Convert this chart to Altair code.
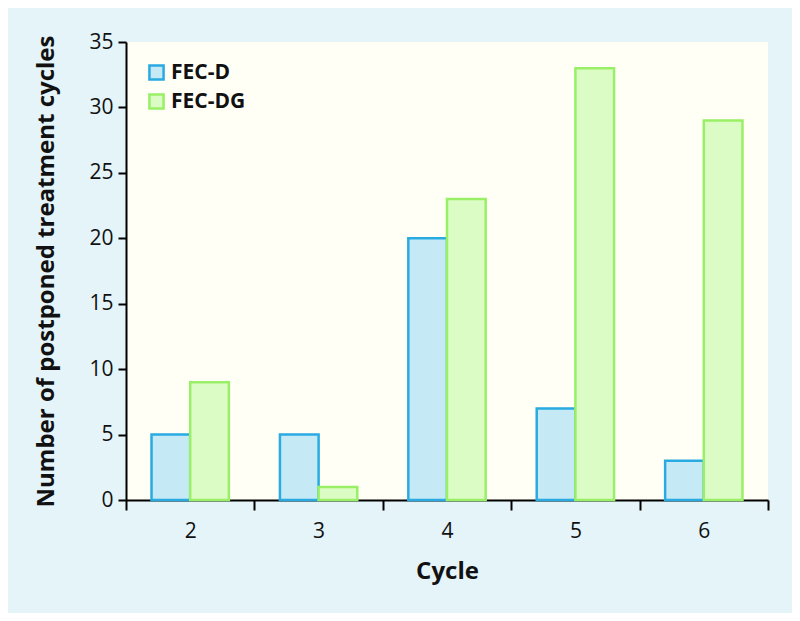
import altair as alt
import pandas as pd

cycles = ["2", "3", "4", "5", "6"]
fec_d = [5, 5, 20, 7, 3]
fec_dg = [9, 1, 23, 33, 29]
groups = ["FEC-D", "FEC-DG"]

rows = []
for c, d, g in zip(cycles, fec_d, fec_dg):
    rows.append({"Cycle": c, "Group": groups[0], "Value": d})
    rows.append({"Cycle": c, "Group": groups[1], "Value": g})
df = pd.DataFrame(rows)

chart = alt.Chart(df).mark_bar(strokeWidth=2.5).encode(
    x=alt.X("Cycle:N", sort=cycles,
            scale=alt.Scale(paddingInner=0, paddingOuter=0),
            axis=alt.Axis(title="Cycle", labelAngle=0, tickBand="extent",
                          tickSize=10, labelPadding=10, titlePadding=18)),
    xOffset=alt.XOffset("Group:N", sort=groups,
                        scale=alt.Scale(paddingInner=0, paddingOuter=0.66)),
    y=alt.Y("Value:Q", scale=alt.Scale(domain=[0, 35]),
            axis=alt.Axis(title="Number of postponed treatment cycles",
                          values=[0, 5, 10, 15, 20, 25, 30, 35], titlePadding=30)),
    fill=alt.Fill("Group:N", sort=groups,
                  scale=alt.Scale(domain=groups, range=["#c5eaf5", "#dcfcc6"]),
                  legend=alt.Legend(title=None, orient="none", legendX=20, legendY=20,
                                    symbolType="square", symbolSize=200,
                                    symbolStrokeWidth=2.5, labelFontSize=21,
                                    labelFontWeight="bold", labelFont="Open Sans",
                                    labelColor="#111111", rowPadding=4, labelOffset=4)),
    stroke=alt.Stroke("Group:N", sort=groups,
                      scale=alt.Scale(domain=groups, range=["#29abe2", "#99f066"]),
                      legend=None),
).properties(
    width=642, height=458,
    autosize=alt.AutoSizeParams(type="none"),
    padding={"left": 118, "top": 34, "right": 24, "bottom": 113},
    background="#e4f4f9",
).configure_view(
    fill="#fffff5", stroke=None
).configure_axis(
    domainColor="#000000", domainWidth=2, tickColor="#000000", tickWidth=2,
    tickSize=8, grid=False, labelFont="Open Sans", labelFontSize=21,
    labelColor="#111111", titleFont="Open Sans", titleFontSize=24,
    titleFontWeight="bold", titleColor="#111111", labelPadding=5,
)

chart.save("out.html", embed_options={"renderer": "svg", "actions": False})
